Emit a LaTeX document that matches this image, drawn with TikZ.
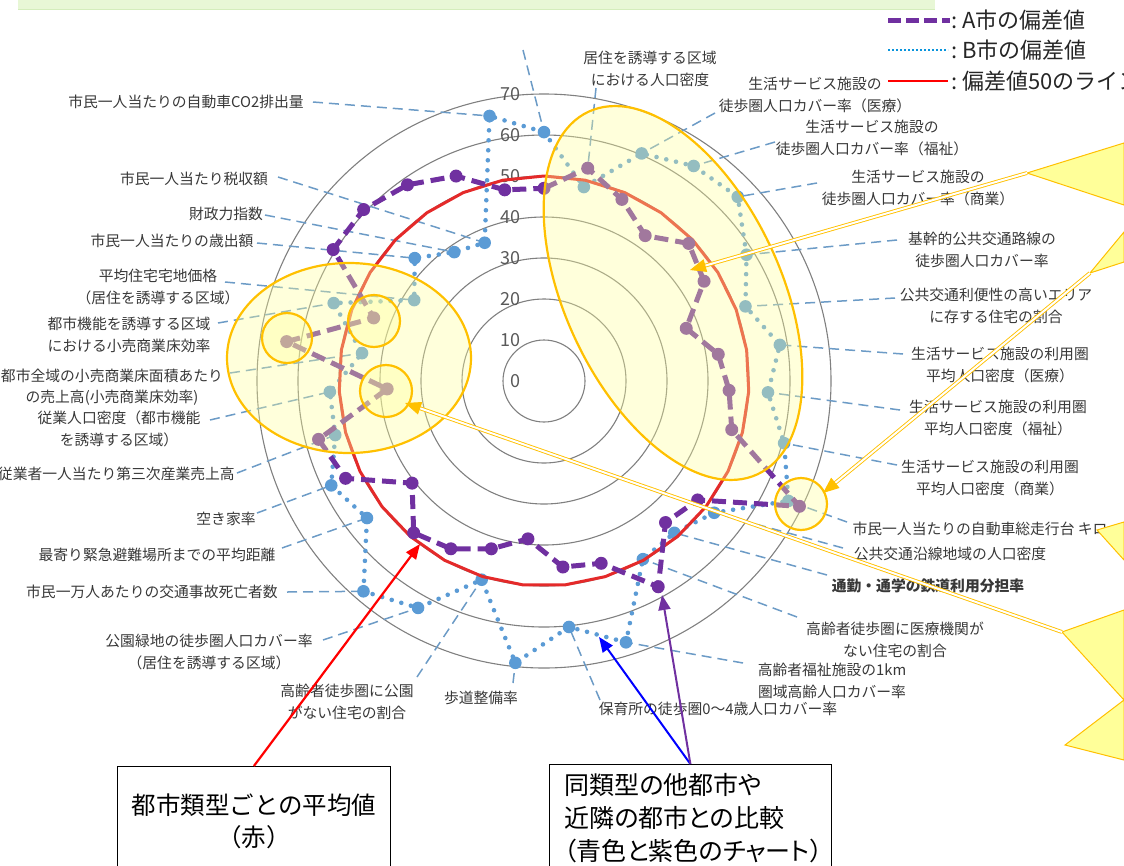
\documentclass[tikz,border=0pt]{standalone}
\usepackage{fontspec}
\setmainfont{Noto Sans CJK JP}
\usetikzlibrary{arrows.meta}
\definecolor{apurple}{HTML}{7030A0}
\definecolor{bblue}{HTML}{5B9BD5}
\definecolor{redl}{HTML}{E42A2A}
\definecolor{leadc}{HTML}{6C9BC6}
\definecolor{labc}{HTML}{383838}
\definecolor{gridc}{HTML}{808080}
\definecolor{numc}{HTML}{595959}
\definecolor{hlo}{HTML}{FFC000}
\definecolor{hlf}{HTML}{FFFF99}
\definecolor{bannerf}{HTML}{E8F7D6}
\definecolor{bannerd}{HTML}{D4EDBC}
\begin{document}
\begin{tikzpicture}[x=1pt,y=-1pt,
  lab/.style={font=\fontsize{14.8}{21.5}\selectfont, text=labc, align=center, inner sep=0pt},
  leader/.style={leadc, line width=1.5pt, dash pattern=on 10pt off 6pt},
  gridcirc/.style={gridc, line width=1.1pt},
  num/.style={font=\fontsize{18}{18}\selectfont, text=numc, anchor=east, inner sep=0pt},
  aline/.style={apurple, line width=5pt, dash pattern=on 14pt off 7pt, line join=round},
  bline/.style={bblue, line width=4.6pt, dash pattern=on 0pt off 10pt, line cap=round},
  rline/.style={redl, line width=3pt, line join=round},
  hl/.style={draw=hlo, line width=2.2pt, fill=hlf, fill opacity=0.35},
  callout/.style={draw=hlo, line width=1pt, fill=hlf},
  oarrow/.style={draw=hlo, line width=0.9pt, double=white, double distance=2pt, -{Triangle[length=16pt,width=13pt]}},
  boxnode/.style={draw=black, line width=0.8pt, fill=white, text=black, align=center, inner sep=0pt},
  legtext/.style={font=\fontsize{22}{22}\selectfont, text=black!85, anchor=west, inner sep=0pt},
]
\useasboundingbox (0,0) rectangle (1124,865);
% banner
\fill[bannerf] (18,-2) rectangle (935,9);
\draw[bannerd, line width=0.8pt] (18,9) -- (935,9);

\coordinate (O) at (544,381);
% grid circles
\foreach \r in {1,...,7} \draw[gridcirc] (O) circle [radius=\r*41pt];

% data coordinates
\foreach \k/\v in {0/47,1/53,2/48.2,3/43.2,4/48.7,5/46,6/37,7/43,8/45.2,9/47.3,10/69.4,11/47.4,12/45.5,13/57.4,14/46.6,15/45.6,16/38.7,17/42.9,18/46.8,19/48.8,20/40.7,21/53.9,22/56.8,23/38.3,24/63.5,25/44.3,26/60.6,27/60.7,28/58.3,29/54.4,30/47.6}
  \coordinate (a\k) at ({544+4.1*\v*sin(\k*360/31)},{381-4.1*\v*cos(\k*360/31)});
\foreach \k/\v in {0/60.7,1/48.3,2/60.4,3/63.9,4/65.2,5/58.2,6/52.4,7/58.2,8/54.7,9/60.5,10/66.4,11/52.5,12/48.8,13/49.7,14/66.8,15/60.3,16/69.1,17/50.8,18/63.3,19/67.6,20/54.6,21/57.8,22/52.6,23/52.3,24/44.9,25/54.7,26/37.3,27/43.5,28/38.3,29/36.7,30/66}
  \coordinate (b\k) at ({544+4.1*\v*sin(\k*360/31)},{381-4.1*\v*cos(\k*360/31)});
\foreach \k in {0,...,30}
  \coordinate (r\k) at ({544+205*sin(\k*360/31)},{381-205*cos(\k*360/31)});

% scale numbers
\foreach \v in {0,10,...,70} \node[num] (n\v) at (521,{381-4.1*\v}) {\v};

% leader lines
\foreach \k/\x/\y in {0/523/50,2/715/113,3/775/142,4/817/183,5/897/240,6/895/298,7/903/354,8/900/410,9/897/465,10/847/522,11/843/548,12/827/575,13/797/617,14/743/663,15/600/700,16/513/683,17/417/677,18/323/640,19/287/592,20/282/548,21/257/513,22/237/473,23/210/420,24/230/373,25/218/323,26/225/282,27/257/243,28/265/215,29/278/177,30/313/102}
{ \coordinate (ls\k) at (\x,\y); \draw[leader] (ls\k) -- (b\k); }
\coordinate (ls1) at (596,88);
\draw[leader] (ls1) -- (a1);

% labels
\node[lab] (l1) at (650,69) {居住を誘導する区域\\における人口密度};
\node[lab] (l2) at (815,95) {生活サービス施設の\\徒歩圏人口カバー率（医療）};
\node[lab] (l3) at (872,138) {生活サービス施設の\\徒歩圏人口カバー率（福祉）};
\node[lab] (l4) at (918,188) {生活サービス施設の\\徒歩圏人口カバー率（商業）};
\node[lab] (l5) at (982,250) {基幹的公共交通路線の\\徒歩圏人口カバー率};
\node[lab] (l6) at (996,306) {公共交通利便性の高いエリア\\に存する住宅の割合};
\node[lab] (l7) at (1000,365) {生活サービス施設の利用圏\\平均人口密度（医療）};
\node[lab] (l8) at (998,418) {生活サービス施設の利用圏\\平均人口密度（福祉）};
\node[lab] (l9) at (990,478) {生活サービス施設の利用圏\\平均人口密度（商業）};
\node[lab] (l10) at (980,529) {市民一人当たりの自動車総走行台 キロ};
\node[lab] (l11) at (950,554) {公共交通沿線地域の人口密度};
\node[lab, font=\fontsize{14.8}{21.5}\selectfont\bfseries] (l12) at (928,586) {通勤・通学の鉄道利用分担率};
\node[lab] (l13) at (895,640) {高齢者徒歩圏に医療機関が\\ない住宅の割合};
\node[lab] (l14) at (832,681) {高齢者福祉施設の1km\\圏域高齢人口カバー率};
\node[lab] (l15) at (718,709) {保育所の徒歩圏0～4歳人口カバー率};
\node[lab] (l16) at (481,698) {歩道整備率};
\node[lab] (l17) at (347,702) {高齢者徒歩圏に公園\\がない住宅の割合};
\node[lab] (l18) at (209,652) {公園緑地の徒歩圏人口カバー率\\（居住を誘導する区域）};
\node[lab] (l19) at (152,592) {市民一万人あたりの交通事故死亡者数};
\node[lab] (l20) at (157,555) {最寄り緊急避難場所までの平均距離};
\node[lab] (l21) at (226,519) {空き家率};
\node[lab, anchor=east] (l22) at (235,474) {従業者一人当たり第三次産業売上高};
\node[lab] (l23) at (119,429) {従業人口密度（都市機能\\を誘導する区域）};
\node[lab] (l24) at (112,387) {都市全域の小売商業床面積あたり\\の売上高(小売商業床効率)};
\node[lab] (l25) at (129,335) {都市機能を誘導する区域\\における小売商業床効率};
\node[lab] (l26) at (158,287) {平均住宅宅地価格\\（居住を誘導する区域）};
\node[lab] (l27) at (172,241) {市民一人当たりの歳出額};
\node[lab] (l28) at (226,214) {財政力指数};
\node[lab] (l29) at (194,179) {市民一人当たり税収額};
\node[lab] (l30) at (186,102) {市民一人当たりの自動車CO2排出量};

% series
\draw[bline] (b0) \foreach \k in {1,...,30}{ -- (b\k)} -- cycle;
\foreach \k in {0,...,30} \fill[bblue] (b\k) circle [radius=6.3pt];
\draw[rline] (r0) \foreach \k in {1,...,30}{ -- (r\k)} -- cycle;
\draw[aline] (a0) \foreach \k in {1,...,30}{ -- (a\k)} -- cycle;
\foreach \k in {0,...,30} \fill[apurple] (a\k) circle [radius=6.5pt];

% highlights
\filldraw[hl, rotate around={-65:(673,293)}] (673,293) ellipse [x radius=200pt, y radius=108pt];
\filldraw[hl] (349,358) ellipse [x radius=122pt, y radius=95pt];
\filldraw[hl] (287,338) circle [radius=25pt];
\filldraw[hl] (374,321) circle [radius=26pt];
\filldraw[hl] (386,391) circle [radius=26pt];
\filldraw[hl] (801,504) circle [radius=26pt];

% callouts at right edge
\filldraw[callout] (1027,173) -- (1124,143) -- (1124,205) -- cycle;
\filldraw[callout] (1090,273) -- (1124,232) -- (1124,262) -- cycle;
\filldraw[callout] (1097,530) -- (1124,522) -- (1124,560) -- cycle;
\filldraw[callout] (1062,632) -- (1124,610) -- (1124,760) -- (1065,745) -- (1124,700) -- cycle;
\coordinate (c1) at (1027,173);
\coordinate (c2) at (1090,273);
\coordinate (c4) at (1062,632);
\coordinate (t1) at (690,270);
\coordinate (t2) at (823,493);
\coordinate (t3) at (405,403);
\draw[oarrow] (c1) -- (t1);
\draw[oarrow] (c2) -- (t2);
\draw[oarrow] (c4) -- (t3);

% legend
\coordinate (lg1a) at (888,20); \coordinate (lg1b) at (950,20);
\coordinate (lg2a) at (888,50); \coordinate (lg2b) at (948,50);
\coordinate (lg3a) at (888,81); \coordinate (lg3b) at (948,81);
\draw[apurple, line width=5pt, dash pattern=on 13pt off 5pt] (lg1a) -- (lg1b);
\draw[cyan!80!blue, line width=2.5pt, dash pattern=on 2pt off 2pt] (lg2a) -- (lg2b);
\draw[red, line width=2.2pt] (lg3a) -- (lg3b);
\node[legtext] (lt1) at (951,20) {:\ A市の偏差値};
\node[legtext] (lt2) at (951,50) {:\ B市の偏差値};
\node[legtext] (lt3) at (951,81) {:\ 偏差値50のライン};

% bottom boxes
\node[boxnode, minimum width=273pt, minimum height=110pt, anchor=north west,
  font=\fontsize{24.5}{32}\selectfont] (box1) at (117,766) {都市類型ごとの平均値\\（赤）};
\node[boxnode, minimum width=282pt, minimum height=107pt, anchor=north west, align=left,
  font=\fontsize{25}{33}\selectfont\addfontfeature{RawFeature=+palt}] (box2) at (549,764)
  {\hspace*{6pt}同類型の他都市や\hspace*{60pt}\\\hspace*{6pt}近隣の都市との比較\\\hspace*{6pt}（青色と紫色のチャート）};
\coordinate (tr) at (420,544);
\coordinate (tb) at (599,637);
\coordinate (tp) at (662,595);
\draw[red, line width=2.2pt, -{Triangle[length=15pt,width=12pt]}] (box1.north) -- (tr);
\draw[blue, line width=2pt, -{Triangle[length=15pt,width=12pt]}] (box2.north) -- (tb);
\draw[apurple, line width=2pt, -{Triangle[length=15pt,width=12pt]}] (box2.north) -- (tp);
\end{tikzpicture}
\end{document}
